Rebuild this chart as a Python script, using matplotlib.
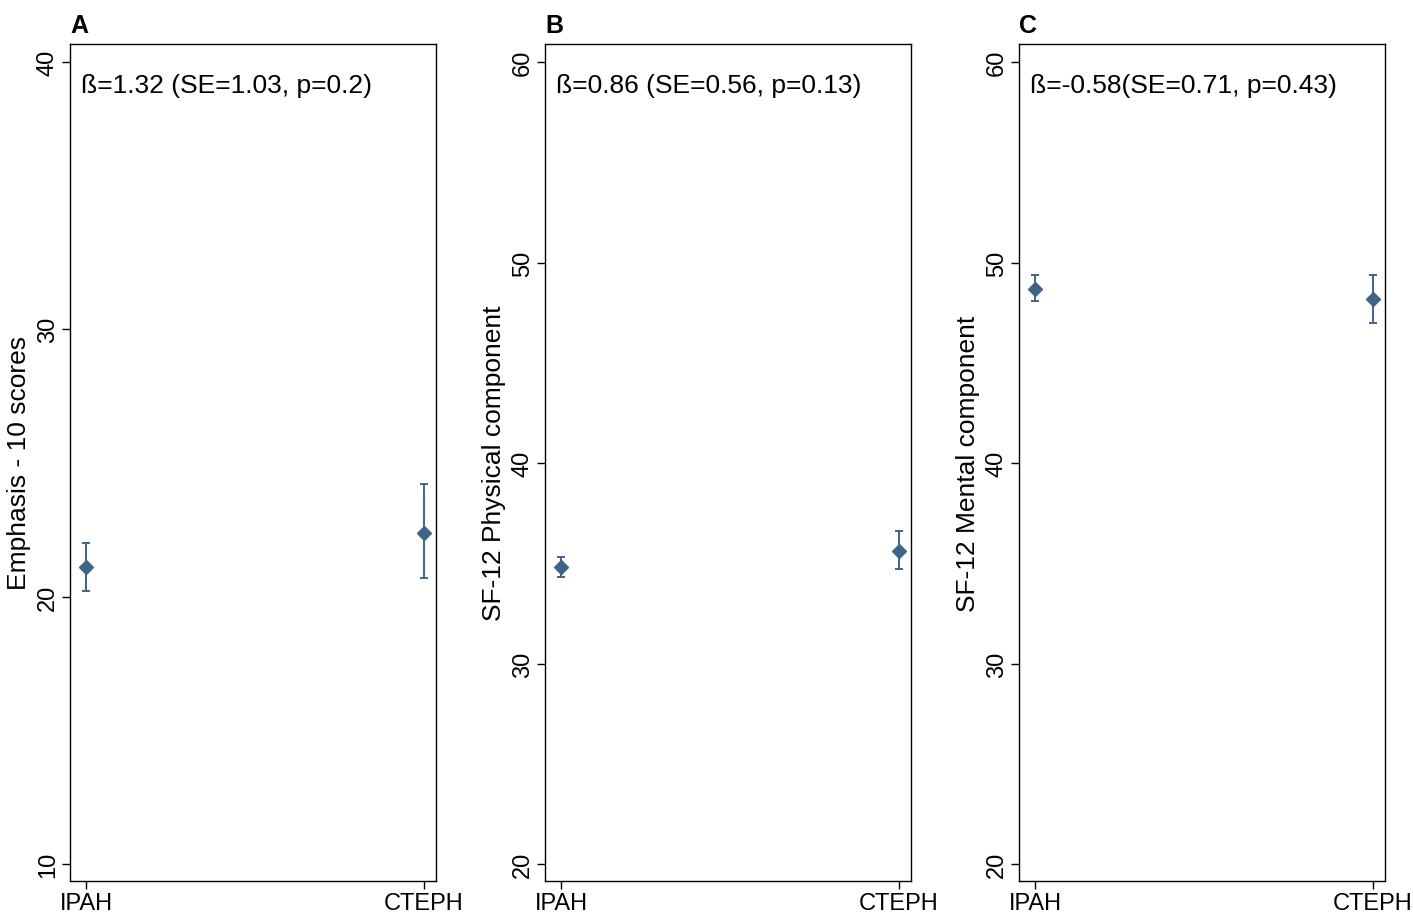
import matplotlib.pyplot as plt

plt.rcParams['font.family'] = ['Liberation Sans', 'DejaVu Sans']

groups = ['IPAH', 'CTEPH']
panel_letters = ['A', 'B', 'C']
ylabels = ['Emphasis - 10 scores', 'SF-12 Physical component', 'SF-12 Mental component']
notes = ['ß=1.32 (SE=1.03, p=0.2)', 'ß=0.86 (SE=0.56, p=0.13)', 'ß=-0.58(SE=0.71, p=0.43)']
means = [[21.1, 22.4], [34.8, 35.6], [48.7, 48.2]]
lower = [[20.2, 20.7], [34.3, 34.7], [48.1, 47.0]]
upper = [[22.0, 24.2], [35.3, 36.6], [49.4, 49.4]]
yticks = [[10, 20, 30, 40], [20, 30, 40, 50, 60], [20, 30, 40, 50, 60]]

W, H = 1413, 920
color = '#3E6487'
lefts = [70, 545, 1019]

fig = plt.figure(figsize=(W / 100, H / 100), dpi=100)
for i in range(3):
    ax = fig.add_axes([lefts[i] / W, (H - 882) / H, 366 / W, (882 - 45) / H])
    m = means[i]
    err = [[m[k] - lower[i][k] for k in range(2)], [upper[i][k] - m[k] for k in range(2)]]
    ax.errorbar([0, 1], m, yerr=err, fmt='D', color=color, ms=7, capsize=3,
                elinewidth=1.4, capthick=1.4)
    lo, hi = yticks[i][0], yticks[i][-1]
    step = (hi - lo) / 802  # per pixel
    ax.set_ylim(lo - 17 * step, hi + 18 * step)
    ax.set_xlim(-16 / 338, 1 + 12 / 338)
    ax.set_yticks(yticks[i])
    ax.set_yticklabels([str(t) for t in yticks[i]], rotation=90, va='center', fontsize=17)
    ax.set_xticks([0, 1])
    ax.set_xticklabels(groups, fontsize=17)
    ax.tick_params(length=6, width=1, direction='out', pad=2)
    ax.set_ylabel(ylabels[i], fontsize=19, labelpad=4)
    for s in ax.spines.values():
        s.set_linewidth(1)
    ax.text(0.03, 0.965, notes[i], transform=ax.transAxes, fontsize=19, va='top')
    ax.text(0.0, 1.008, panel_letters[i], transform=ax.transAxes, fontsize=18,
            fontweight='bold', va='bottom')

fig.savefig('out.png', dpi=100)
